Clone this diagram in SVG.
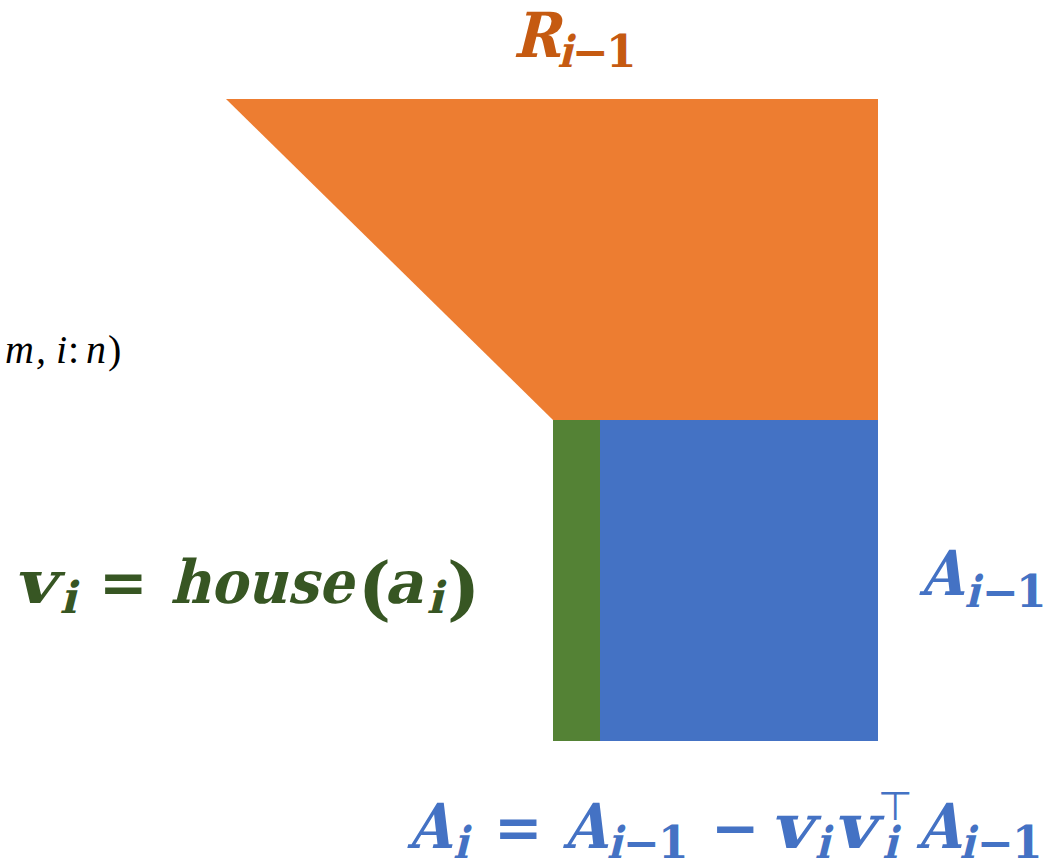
<svg xmlns="http://www.w3.org/2000/svg" width="1055" height="865" viewBox="0 0 1055 865">
<style>
.m{font-family:"DejaVu Serif",serif;font-style:normal;font-weight:bold}
.s{font-size:44px}
.op{font-size:58px}
.t{font-family:"DejaVu Sans",sans-serif;font-weight:normal;font-size:40px}
.o{fill:#C55A11}.g{fill:#375623}.b{fill:#4472C4}
</style>
<rect width="1055" height="865" fill="#fff"/>
<g id="R">
<polygon points="226,99 878,99 878,420 553,420" fill="#ED7D31"/>
</g>
<g id="v">
<rect x="553" y="420" width="47" height="321" fill="#548235"/>
</g>
<g id="A">
<rect x="600" y="420" width="278" height="321" fill="#4472C4"/>
</g>
<g id="connectors"></g>
<g id="labels">
<g id="label-R">
<text class="m o" font-size="62" transform="translate(0,57) skewX(-14) scale(0.9,1)" y="0"><tspan x="570">R</tspan><tspan class="s" x="622" y="10">i</tspan></text>
<text class="m o s" y="67"><tspan x="572">−</tspan><tspan x="606">1</tspan></text>
</g>
<text id="label-mn" font-family="Liberation Serif, serif" font-style="italic" font-size="40" fill="#000" y="363"><tspan x="5">m</tspan><tspan x="36">,</tspan><tspan x="56">i</tspan><tspan x="68" font-style="normal">:</tspan><tspan x="86">n</tspan><tspan x="108" font-style="normal">)</tspan></text>
<g id="label-v">
<text class="m g" font-size="60" transform="translate(0,603) skewX(-14)" y="0"><tspan x="14" textLength="42" lengthAdjust="spacingAndGlyphs">v</tspan><tspan class="s" x="62" y="10">i</tspan><tspan x="170" y="0" textLength="183" lengthAdjust="spacingAndGlyphs">house</tspan><tspan x="384">a</tspan><tspan class="s" x="429" y="10">i</tspan></text>
<text class="m g op" y="603" x="99">=</text>
<text class="m g" font-size="70" y="612"><tspan x="358">(</tspan><tspan x="447">)</tspan></text>
</g>
<g id="label-A">
<text class="m b" font-size="62" transform="translate(0,595) skewX(-14) scale(0.9,1)" y="0"><tspan x="1022">A</tspan><tspan class="s" x="1075" y="12">i</tspan></text>
<text class="m b s" y="607"><tspan x="982">−</tspan><tspan x="1016">1</tspan></text>
</g>
<g id="label-update">
<text class="m b" font-size="62" transform="translate(0,848) skewX(-14) scale(0.9,1)" y="0"><tspan x="453">A</tspan><tspan class="s" x="506" y="10">i</tspan><tspan x="626" y="0">A</tspan><tspan class="s" x="677" y="10">i</tspan><tspan x="856" y="0" textLength="46" lengthAdjust="spacingAndGlyphs">v</tspan><tspan class="s" x="908" y="10">i</tspan><tspan x="926" y="0" textLength="46" lengthAdjust="spacingAndGlyphs">v</tspan><tspan class="s" x="983" y="10">i</tspan><tspan x="1019" y="0">A</tspan><tspan class="s" x="1069" y="10">i</tspan></text>
<text class="m b op" y="848"><tspan x="494">=</tspan><tspan x="711">−</tspan></text>
<text class="m b s" y="858"><tspan x="623">−</tspan><tspan x="658">1</tspan><tspan x="977">−</tspan><tspan x="1012">1</tspan></text>
<text class="t b" x="878" y="820">⊤</text>
</g>
</g>
</svg>
